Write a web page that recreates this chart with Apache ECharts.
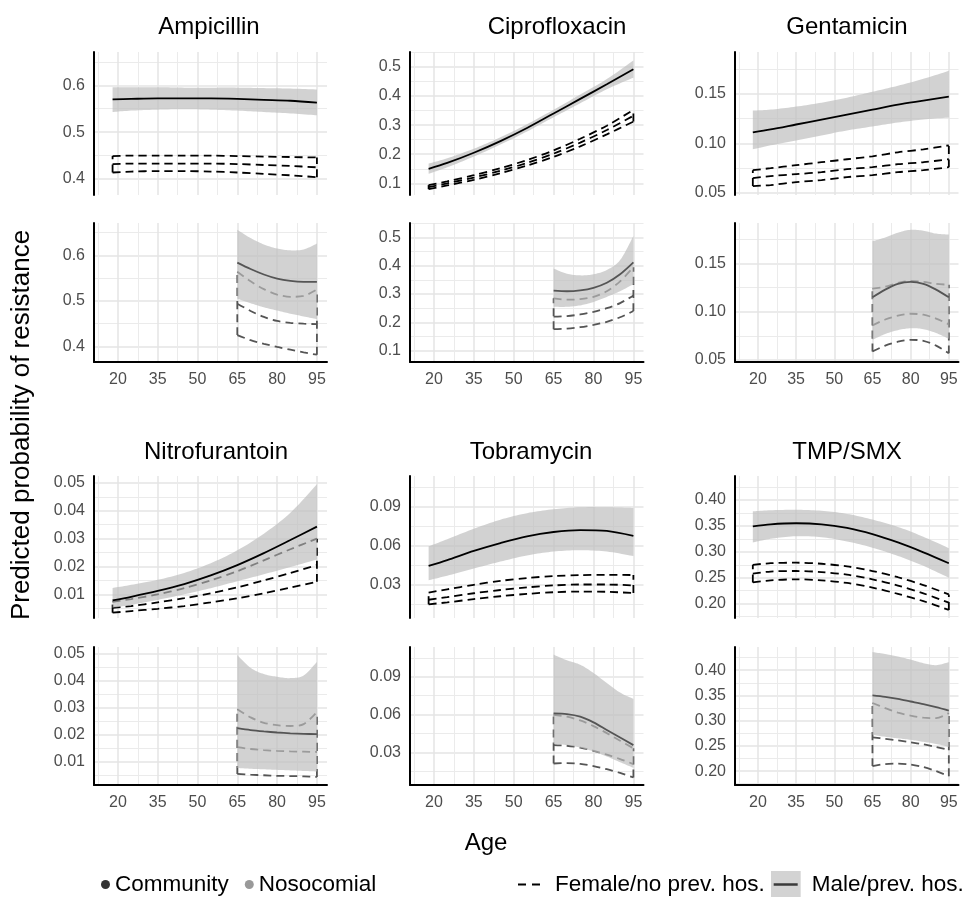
<!DOCTYPE html>
<html><head><meta charset="utf-8">
<script src="https://cdn.jsdelivr.net/npm/echarts@6/dist/echarts.min.js"></script>
<style>html,body{margin:0;padding:0;background:#fff}#c{width:972px;height:897px}</style>
</head><body><div id="c"></div><script>
// ---------------- DATA ----------------
const ageCommunity = [18, 25, 35, 45, 55, 65, 75, 85, 95];
const ageNosocomial = [65, 70, 75, 80, 85, 90, 95];
const xTickLabels = [20, 35, 50, 65, 80, 95];
const drugNames = ['Ampicillin', 'Ciprofloxacin', 'Gentamicin', 'Nitrofurantoin', 'Tobramycin', 'TMP/SMX'];

// Ampicillin
const ampTicks = [0.4, 0.5, 0.6];
const ampComMaleMean = [0.570, 0.571, 0.572, 0.572, 0.572, 0.571, 0.569, 0.567, 0.563];
const ampComMaleLo   = [0.543, 0.546, 0.548, 0.549, 0.548, 0.546, 0.543, 0.540, 0.536];
const ampComMaleHi   = [0.596, 0.596, 0.596, 0.595, 0.595, 0.595, 0.594, 0.593, 0.591];
const ampComFemMean  = [0.432, 0.433, 0.433, 0.433, 0.433, 0.432, 0.430, 0.428, 0.425];
const ampComFemLo    = [0.414, 0.416, 0.417, 0.417, 0.416, 0.414, 0.411, 0.408, 0.404];
const ampComFemHi    = [0.449, 0.450, 0.450, 0.450, 0.450, 0.449, 0.448, 0.447, 0.446];
const ampNosMaleMean = [0.584, 0.570, 0.558, 0.549, 0.544, 0.542, 0.542];
const ampNosMaleLo   = [0.505, 0.495, 0.486, 0.479, 0.472, 0.466, 0.460];
const ampNosMaleHi   = [0.656, 0.638, 0.624, 0.615, 0.611, 0.613, 0.626];
const ampNosFemMean  = [0.494, 0.478, 0.465, 0.456, 0.452, 0.450, 0.449];
const ampNosFemLo    = [0.425, 0.414, 0.406, 0.399, 0.393, 0.387, 0.382];
const ampNosFemHi    = [0.564, 0.543, 0.526, 0.514, 0.509, 0.511, 0.525];

// Ciprofloxacin
const cipTicks = [0.1, 0.2, 0.3, 0.4, 0.5];
const cipComMaleMean = [0.150, 0.170, 0.205, 0.245, 0.290, 0.340, 0.390, 0.440, 0.492];
const cipComMaleLo   = [0.133, 0.155, 0.192, 0.233, 0.278, 0.327, 0.375, 0.423, 0.463];
const cipComMaleHi   = [0.168, 0.186, 0.219, 0.258, 0.303, 0.353, 0.405, 0.458, 0.522];
const cipComFemMean  = [0.087, 0.100, 0.120, 0.143, 0.170, 0.202, 0.240, 0.283, 0.332];
const cipComFemLo    = [0.080, 0.093, 0.112, 0.135, 0.161, 0.191, 0.227, 0.268, 0.312];
const cipComFemHi    = [0.094, 0.107, 0.128, 0.152, 0.180, 0.213, 0.253, 0.298, 0.352];
const cipNosMaleMean = [0.312, 0.310, 0.313, 0.322, 0.340, 0.370, 0.412];
const cipNosMaleLo   = [0.255, 0.255, 0.260, 0.272, 0.290, 0.310, 0.335];
const cipNosMaleHi   = [0.390, 0.372, 0.366, 0.370, 0.385, 0.420, 0.505];
const cipNosFemMean  = [0.220, 0.222, 0.228, 0.237, 0.250, 0.268, 0.295];
const cipNosFemLo    = [0.176, 0.178, 0.183, 0.191, 0.202, 0.218, 0.240];
const cipNosFemHi    = [0.285, 0.280, 0.282, 0.290, 0.310, 0.345, 0.395];

// Gentamicin
const genTicks = [0.05, 0.10, 0.15];
const genComMaleMean = [0.111, 0.114, 0.119, 0.124, 0.129, 0.134, 0.139, 0.143, 0.147];
const genComMaleLo   = [0.094, 0.098, 0.103, 0.108, 0.113, 0.117, 0.121, 0.124, 0.126];
const genComMaleHi   = [0.133, 0.134, 0.137, 0.141, 0.146, 0.152, 0.158, 0.165, 0.173];
const genComFemMean  = [0.065, 0.067, 0.069, 0.071, 0.074, 0.076, 0.079, 0.081, 0.084];
const genComFemLo    = [0.057, 0.058, 0.061, 0.063, 0.066, 0.068, 0.071, 0.073, 0.076];
const genComFemHi    = [0.073, 0.075, 0.078, 0.081, 0.084, 0.087, 0.091, 0.094, 0.098];
const genNosMaleMean = [0.115, 0.123, 0.129, 0.131, 0.129, 0.123, 0.115];
const genNosMaleLo   = [0.071, 0.077, 0.081, 0.083, 0.082, 0.078, 0.072];
const genNosMaleHi   = [0.173, 0.177, 0.182, 0.185, 0.184, 0.181, 0.180];
const genNosFemMean  = [0.086, 0.092, 0.096, 0.098, 0.097, 0.093, 0.087];
const genNosFemLo    = [0.059, 0.065, 0.069, 0.071, 0.070, 0.065, 0.057];
const genNosFemHi    = [0.124, 0.126, 0.130, 0.132, 0.131, 0.129, 0.128];

// Nitrofurantoin
const nitTicks = [0.01, 0.02, 0.03, 0.04, 0.05];
const nitComMaleMean = [0.0078, 0.0091, 0.0112, 0.0137, 0.0168, 0.0205, 0.0248, 0.0295, 0.0343];
const nitComMaleLo   = [0.0052, 0.0062, 0.0080, 0.0100, 0.0122, 0.0147, 0.0172, 0.0198, 0.0225];
const nitComMaleHi   = [0.0123, 0.0134, 0.0152, 0.0177, 0.0212, 0.0258, 0.0318, 0.0393, 0.0495];
const nitComFemMean  = [0.0051, 0.0058, 0.0071, 0.0086, 0.0104, 0.0125, 0.0150, 0.0177, 0.0205];
const nitComFemLo    = [0.0034, 0.0040, 0.0048, 0.0058, 0.0071, 0.0086, 0.0104, 0.0124, 0.0145];
const nitComFemHi    = [0.0073, 0.0083, 0.0100, 0.0122, 0.0150, 0.0183, 0.0222, 0.0262, 0.0300];
const nitNosMaleMean = [0.0225, 0.0218, 0.0213, 0.0209, 0.0206, 0.0204, 0.0203];
const nitNosMaleLo   = [0.0078, 0.0075, 0.0073, 0.0071, 0.0069, 0.0067, 0.0065];
const nitNosMaleHi   = [0.0495, 0.0448, 0.0425, 0.0415, 0.0410, 0.0420, 0.0470];
const nitNosFemMean  = [0.0155, 0.0148, 0.0144, 0.0141, 0.0139, 0.0138, 0.0137];
const nitNosFemLo    = [0.0056, 0.0053, 0.0051, 0.0049, 0.0048, 0.0047, 0.0045];
const nitNosFemHi    = [0.0295, 0.0265, 0.0245, 0.0236, 0.0233, 0.0240, 0.0285];

// Tobramycin
const tobTicks = [0.03, 0.06, 0.09];
const tobComMaleMean = [0.0445, 0.0490, 0.0560, 0.0620, 0.0672, 0.0705, 0.0720, 0.0713, 0.0675];
const tobComMaleLo   = [0.0335, 0.0370, 0.0425, 0.0478, 0.0525, 0.0555, 0.0565, 0.0555, 0.0520];
const tobComMaleHi   = [0.0595, 0.0650, 0.0730, 0.0800, 0.0850, 0.0880, 0.0895, 0.0895, 0.0890];
const tobComFemMean  = [0.0185, 0.0205, 0.0235, 0.0260, 0.0280, 0.0295, 0.0302, 0.0302, 0.0295];
const tobComFemLo    = [0.0150, 0.0165, 0.0190, 0.0212, 0.0230, 0.0243, 0.0248, 0.0246, 0.0237];
const tobComFemHi    = [0.0240, 0.0265, 0.0300, 0.0330, 0.0352, 0.0367, 0.0374, 0.0376, 0.0375];
const tobNosMaleMean = [0.0610, 0.0605, 0.0585, 0.0540, 0.0480, 0.0420, 0.0360];
const tobNosMaleLo   = [0.0370, 0.0360, 0.0340, 0.0310, 0.0270, 0.0225, 0.0180];
const tobNosMaleHi   = [0.1075, 0.1030, 0.0995, 0.0930, 0.0850, 0.0775, 0.0725];
const tobNosFemMean  = [0.0360, 0.0355, 0.0340, 0.0315, 0.0285, 0.0250, 0.0210];
const tobNosFemLo    = [0.0215, 0.0218, 0.0212, 0.0195, 0.0170, 0.0140, 0.0105];
const tobNosFemHi    = [0.0600, 0.0585, 0.0555, 0.0510, 0.0455, 0.0395, 0.0335];

// TMP/SMX
const tmpTicks = [0.20, 0.25, 0.30, 0.35, 0.40];
const tmpComMaleMean = [0.349, 0.353, 0.355, 0.353, 0.346, 0.334, 0.318, 0.299, 0.278];
const tmpComMaleLo   = [0.318, 0.325, 0.330, 0.328, 0.320, 0.308, 0.292, 0.273, 0.250];
const tmpComMaleHi   = [0.378, 0.380, 0.381, 0.379, 0.373, 0.362, 0.348, 0.329, 0.307];
const tmpComFemMean  = [0.258, 0.262, 0.263, 0.261, 0.256, 0.247, 0.235, 0.220, 0.202];
const tmpComFemLo    = [0.241, 0.245, 0.247, 0.245, 0.240, 0.231, 0.219, 0.205, 0.188];
const tmpComFemHi    = [0.275, 0.278, 0.279, 0.277, 0.272, 0.263, 0.251, 0.236, 0.218];
const tmpNosMaleMean = [0.350, 0.347, 0.343, 0.338, 0.333, 0.327, 0.320];
const tmpNosMaleLo   = [0.272, 0.268, 0.265, 0.262, 0.258, 0.254, 0.248];
const tmpNosMaleHi   = [0.436, 0.432, 0.427, 0.421, 0.414, 0.410, 0.416];
const tmpNosFemMean  = [0.267, 0.264, 0.261, 0.257, 0.253, 0.248, 0.242];
const tmpNosFemLo    = [0.210, 0.214, 0.215, 0.213, 0.208, 0.200, 0.190];
const tmpNosFemHi    = [0.335, 0.325, 0.316, 0.310, 0.306, 0.305, 0.315];

// ---------------- LAYOUT / STYLE ----------------
const FONT = '"Liberation Sans", Arial, Helvetica, sans-serif';
const COL_COMM = '#000000';
const COL_NOSO = '#555555';
const BAND_FILL = 'rgba(188,188,188,0.68)';
const GRID_MAJOR = '#e5e5e5';
const GRID_MINOR = '#ebebeb';
const X_MIN = 11, X_MAX = 98.8;

const panelDefs = [
  { ticks: ampTicks, step: 0.1, dec: 1, ymin: 0.366, ymax: 0.671,
    com: [ampComMaleMean, ampComMaleLo, ampComMaleHi, ampComFemMean, ampComFemLo, ampComFemHi],
    nos: [ampNosMaleMean, ampNosMaleLo, ampNosMaleHi, ampNosFemMean, ampNosFemLo, ampNosFemHi] },
  { ticks: cipTicks, step: 0.1, dec: 1, ymin: 0.060, ymax: 0.551,
    com: [cipComMaleMean, cipComMaleLo, cipComMaleHi, cipComFemMean, cipComFemLo, cipComFemHi],
    nos: [cipNosMaleMean, cipNosMaleLo, cipNosMaleHi, cipNosFemMean, cipNosFemLo, cipNosFemHi] },
  { ticks: genTicks, step: 0.05, dec: 2, ymin: 0.048, ymax: 0.192,
    com: [genComMaleMean, genComMaleLo, genComMaleHi, genComFemMean, genComFemLo, genComFemHi],
    nos: [genNosMaleMean, genNosMaleLo, genNosMaleHi, genNosFemMean, genNosFemLo, genNosFemHi] },
  { ticks: nitTicks, step: 0.01, dec: 2, ymin: 0.0015, ymax: 0.0525,
    com: [nitComMaleMean, nitComMaleLo, nitComMaleHi, nitComFemMean, nitComFemLo, nitComFemHi],
    nos: [nitNosMaleMean, nitNosMaleLo, nitNosMaleHi, nitNosFemMean, nitNosFemLo, nitNosFemHi] },
  { ticks: tobTicks, step: 0.03, dec: 2, ymin: 0.0045, ymax: 0.1135,
    com: [tobComMaleMean, tobComMaleLo, tobComMaleHi, tobComFemMean, tobComFemLo, tobComFemHi],
    nos: [tobNosMaleMean, tobNosMaleLo, tobNosMaleHi, tobNosFemMean, tobNosFemLo, tobNosFemHi] },
  { ticks: tmpTicks, step: 0.05, dec: 2, ymin: 0.1725, ymax: 0.446,
    com: [tmpComMaleMean, tmpComMaleLo, tmpComMaleHi, tmpComFemMean, tmpComFemLo, tmpComFemHi],
    nos: [tmpNosMaleMean, tmpNosMaleLo, tmpNosMaleHi, tmpNosFemMean, tmpNosFemLo, tmpNosFemHi] }
];

const colLeft = [94, 410, 735];
const colRight = [327, 643.5, 958.5];
const topPanelY = [[52, 195], [476, 618]];
const botPanelY = [[223, 362], [647, 785]];
const titlePos = [[209, 27], [557, 27], [847, 27], [216, 452], [531, 452], [847, 452]];

const xMinorTicks = xTickLabels.map(v => v - 7.5);

const grids = [], xAxes = [], yAxes = [], series = [], graphics = [];

function zip(xs, ys) { return xs.map((x, i) => [x, ys[i]]); }

// Catmull-Rom densification of pixel points (drawing only; the points themselves come from the data via api.coord)
function splinePixels(pts, seg) {
  const out = [];
  const n = pts.length;
  for (let i = 0; i < n - 1; i++) {
    const p0 = pts[Math.max(i - 1, 0)], p1 = pts[i], p2 = pts[i + 1], p3 = pts[Math.min(i + 2, n - 1)];
    for (let s = 0; s < seg; s++) {
      const t = s / seg, t2 = t * t, t3 = t2 * t;
      const f = (a, b, c, d) => 0.5 * ((2 * b) + (-a + c) * t + (2 * a - 5 * b + 4 * c - d) * t2 + (-a + 3 * b - 3 * c + d) * t3);
      out.push([f(p0[0], p1[0], p2[0], p3[0]), f(p0[1], p1[1], p2[1], p3[1])]);
    }
  }
  out.push(pts[n - 1]);
  return out;
}

function addAxes(g, def, isBottom) {
  const minorY = [];
  for (let i = -2; i < def.ticks.length + 2; i++) {
    const v = +(def.ticks[0] + (i + 0.5) * def.step).toFixed(6);
    if (v > def.ymin && v < def.ymax) minorY.push(v);
  }
  xAxes.push({
    gridIndex: g, type: 'value', min: X_MIN, max: X_MAX,
    axisLine: { show: isBottom, onZero: false, lineStyle: { color: '#000', width: 2 } },
    axisTick: { show: false, customValues: xTickLabels },
    axisLabel: { show: isBottom, customValues: xTickLabels, fontSize: 16, color: '#4d4d4d', fontFamily: FONT, margin: 10 },
    splitLine: { show: true, lineStyle: { color: GRID_MAJOR, width: 1.5 } }
  });
  xAxes.push({
    gridIndex: g, type: 'value', min: X_MIN, max: X_MAX,
    axisLine: { show: false }, axisTick: { show: false, customValues: xMinorTicks },
    axisLabel: { show: false },
    splitLine: { show: true, lineStyle: { color: GRID_MINOR, width: 1 } }
  });
  yAxes.push({
    gridIndex: g, type: 'value', min: def.ymin, max: def.ymax,
    axisLine: { show: true, onZero: false, lineStyle: { color: '#000', width: 2 } },
    axisTick: { show: false, customValues: def.ticks },
    axisLabel: { show: true, customValues: def.ticks, fontSize: 16, color: '#4d4d4d', fontFamily: FONT, margin: 9,
                 formatter: v => Number(v).toFixed(def.dec) },
    splitLine: { show: true, lineStyle: { color: GRID_MAJOR, width: 1.5 } }
  });
  yAxes.push({
    gridIndex: g, type: 'value', min: def.ymin, max: def.ymax,
    axisLine: { show: false }, axisTick: { show: false, customValues: minorY },
    axisLabel: { show: false },
    splitLine: { show: true, lineStyle: { color: GRID_MINOR, width: 1 } }
  });
}

function lineSeries(g, data, color, dashed, z, name) {
  return {
    type: 'line', name: name, xAxisIndex: 2 * g, yAxisIndex: 2 * g, data: data,
    smooth: 0.3, symbol: 'none', showSymbol: false, silent: true, z: z,
    lineStyle: { color: color, width: 1.8, type: dashed ? [8, 5] : 'solid', cap: 'butt' },
    itemStyle: { color: color }
  };
}

function addSeries(g, ages, arrs, color) {
  const [mMean, mLo, mHi, fMean, fLo, fHi] = arrs;
  const n = ages.length;
  // female / no prev. hos.: dashed ribbon outline + dashed estimate
  series.push(lineSeries(g, zip(ages, fHi), color, true, 2));
  series.push(lineSeries(g, zip(ages, fLo), color, true, 2));
  series.push(lineSeries(g, [[ages[0], fLo[0]], [ages[0], fHi[0]]], color, true, 2));
  series.push(lineSeries(g, [[ages[n - 1], fLo[n - 1]], [ages[n - 1], fHi[n - 1]]], color, true, 2));
  series.push(lineSeries(g, zip(ages, fMean), color, true, 2, 'Female/no prev. hos.'));
  // male / prev. hos.: filled ribbon + solid estimate
  series.push({
    type: 'custom', name: 'Male/prev. hos.', xAxisIndex: 2 * g, yAxisIndex: 2 * g, z: 3, silent: true,
    data: ages.map((a, i) => [a, mLo[i], mHi[i]]),
    encode: { x: 0, y: [1, 2] },
    itemStyle: { color: '#cfcfcf' },
    renderItem: function (params, api) {
      if (params.dataIndex !== 0) return null;
      const upper = ages.map((a, i) => api.coord([a, mHi[i]]));
      const lower = ages.map((a, i) => api.coord([a, mLo[i]]));
      const pts = splinePixels(upper, 10).concat(splinePixels(lower, 10).reverse());
      return { type: 'polygon', shape: { points: pts }, style: { fill: BAND_FILL } };
    }
  });
  series.push(lineSeries(g, zip(ages, mMean), color, false, 4));
}

panelDefs.forEach((def, d) => {
  const row = Math.floor(d / 3), col = d % 3;
  const gTop = grids.length;
  grids.push({ left: colLeft[col], width: colRight[col] - colLeft[col], top: topPanelY[row][0], height: topPanelY[row][1] - topPanelY[row][0] });
  addAxes(gTop, def, false);
  addSeries(gTop, ageCommunity, def.com, COL_COMM);
  const gBot = grids.length;
  grids.push({ left: colLeft[col], width: colRight[col] - colLeft[col], top: botPanelY[row][0], height: botPanelY[row][1] - botPanelY[row][0] });
  addAxes(gBot, def, true);
  addSeries(gBot, ageNosocomial, def.nos, COL_NOSO);
  graphics.push({ type: 'text', x: titlePos[d][0], y: titlePos[d][1], silent: true,
    style: { text: drugNames[d], fontSize: 24, fontFamily: FONT, fill: '#000', textAlign: 'center', textVerticalAlign: 'middle' } });
});

// dummy series so the site legend has entries
series.push({ type: 'scatter', name: 'Community', xAxisIndex: 0, yAxisIndex: 0, data: [], itemStyle: { color: '#000' } });
series.push({ type: 'scatter', name: 'Nosocomial', xAxisIndex: 0, yAxisIndex: 0, data: [], itemStyle: { color: '#7f7f7f' } });

graphics.push({ type: 'text', x: 22, y: 425, rotation: Math.PI / 2, silent: true,
  style: { text: 'Predicted probability of resistance', fontSize: 26, fontFamily: FONT, fill: '#000', textAlign: 'center', textVerticalAlign: 'middle' } });
graphics.push({ type: 'text', x: 486, y: 843, silent: true,
  style: { text: 'Age', fontSize: 24, fontFamily: FONT, fill: '#000', textAlign: 'center', textVerticalAlign: 'middle' } });

const svgUri = s => 'image://data:image/svg+xml;charset=utf-8,' + encodeURIComponent(s);
const femIcon = svgUri('<svg xmlns="http://www.w3.org/2000/svg" width="36" height="27"><path d="M4 13.5h8M18 13.5h8" stroke="#000" stroke-width="2"/></svg>');
const maleIcon = svgUri('<svg xmlns="http://www.w3.org/2000/svg" width="36" height="27"><rect x="0" y="0" width="30" height="27" fill="#d3d3d3"/><path d="M3 13.5h24" stroke="#3a3a3a" stroke-width="2.4"/></svg>');

const option = {
  backgroundColor: '#ffffff',
  animation: false,
  grid: grids,
  xAxis: xAxes,
  yAxis: yAxes,
  series: series,
  graphic: graphics,
  legend: [
    { data: [{ name: 'Community', icon: 'circle', itemStyle: { color: '#000' } },
             { name: 'Nosocomial', icon: 'circle', itemStyle: { color: '#7f7f7f' } }],
      left: 96, top: 868, itemWidth: 9, itemHeight: 9, itemGap: 16, selectedMode: false,
      textStyle: { fontSize: 22.5, color: '#000', fontFamily: FONT } },
    { data: [{ name: 'Female/no prev. hos.', icon: femIcon },
             { name: 'Male/prev. hos.', icon: maleIcon }],
      left: 509, top: 866, itemWidth: 36, itemHeight: 27, itemGap: 6, selectedMode: false,
      textStyle: { fontSize: 22.5, color: '#000', fontFamily: FONT } }
  ]
};

const chart = echarts.init(document.getElementById('c'), null, { renderer: 'canvas' });
chart.setOption(option);
</script></body></html>
